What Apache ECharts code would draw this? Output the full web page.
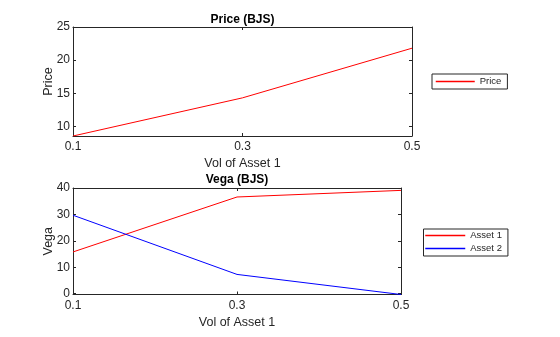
<!DOCTYPE html>
<html>
<head>
<meta charset="utf-8">
<script src="https://cdn.jsdelivr.net/npm/echarts@6/dist/echarts.min.js"></script>
<style>
  html, body { margin: 0; padding: 0; background: #fff; }
  #chart { width: 560px; height: 337px; }
</style>
</head>
<body>
<div id="chart"></div>
<script>
// Volatility of asset 1 (x values shared by both panels)
const vol = [0.1, 0.3, 0.5];
// Option price under BJS
const price = [8.54, 14.3, 21.8];
// Vega of each asset under BJS
const vegaAsset1 = [15.8, 36.6, 39.1];
const vegaAsset2 = [29.7, 7.3, -0.3];
// Tick positions
const volTicks = [0.1, 0.3, 0.5];
const priceTicks = [10, 15, 20, 25];
const vegaTicks = [0, 10, 20, 30, 40];

const INK = '#262626';
const FONT = 'Liberation Sans, Arial, Helvetica, sans-serif';
const RED = '#ff0000';
const BLUE = '#0000ff';

function xAxisFor(gridIndex, position, opts) {
  const labelled = position === 'bottom';
  return Object.assign({
    type: 'value', gridIndex, position,
    min: vol[0], max: vol[vol.length - 1],
    axisLine: { show: true, onZero: false, lineStyle: { color: INK, width: 1 } },
    axisTick: { show: true, inside: true, length: 3, customValues: volTicks, lineStyle: { color: INK } },
    axisLabel: { show: labelled, customValues: volTicks, margin: 5, color: INK, fontSize: 12, fontFamily: FONT,
                 formatter: v => Number(v).toFixed(1) },
    splitLine: { show: false }
  }, opts);
}

function yAxisFor(gridIndex, position, min, max, ticks, opts) {
  const labelled = position === 'left';
  return Object.assign({
    type: 'value', gridIndex, position, min, max,
    axisLine: { show: true, onZero: false, lineStyle: { color: INK, width: 1 } },
    axisTick: { show: true, inside: true, length: 3, customValues: ticks, lineStyle: { color: INK } },
    axisLabel: { show: labelled, customValues: ticks, margin: 3, color: INK, fontSize: 12, fontFamily: FONT },
    splitLine: { show: false }
  }, opts);
}

const nameStyle = { color: INK, fontSize: 12.5, fontFamily: FONT };
const titleStyle = { color: '#000', fontSize: 12, fontWeight: 'bold', fontFamily: FONT };

const pts = ys => vol.map((v, i) => [v, ys[i]]);

// Legend entries: a plain stroke in the series colour, no marker
const legendEntry = (name, colour) => ({
  name,
  itemStyle: { color: colour, opacity: 0 },
  lineStyle: { color: colour, width: 1.5, opacity: 1 }
});

const legendBase = {
  orient: 'vertical', itemWidth: 39, itemHeight: 11, itemGap: 2,
  borderColor: INK, borderWidth: 1, backgroundColor: '#fff',
  textStyle: { color: INK, fontSize: 9.5, fontFamily: FONT, lineHeight: 11 }
};

function lineSeries(name, axisIndex, values, colour) {
  return {
    name, type: 'line', xAxisIndex: axisIndex, yAxisIndex: axisIndex, data: pts(values),
    symbol: 'none', color: colour,
    itemStyle: { color: colour },
    lineStyle: { color: colour, width: 1 }
  };
}

const chart = echarts.init(document.getElementById('chart'), null, { renderer: 'canvas' });
chart.setOption({
  animation: false,
  backgroundColor: '#fff',
  grid: [
    { left: 73, top: 27, width: 339, height: 109 },
    { left: 73, top: 188, width: 328, height: 106.5 }
  ],
  xAxis: [
    xAxisFor(0, 'bottom', { name: 'Vol of Asset 1', nameLocation: 'middle', nameGap: 21, nameTextStyle: nameStyle }),
    xAxisFor(0, 'top', { name: 'Price (BJS)', nameLocation: 'middle', nameGap: 1, nameTextStyle: titleStyle }),
    xAxisFor(1, 'bottom', { name: 'Vol of Asset 1', nameLocation: 'middle', nameGap: 21.5, nameTextStyle: nameStyle }),
    xAxisFor(1, 'top', { name: 'Vega (BJS)', nameLocation: 'middle', nameGap: 2, nameTextStyle: titleStyle })
  ],
  yAxis: [
    yAxisFor(0, 'left', Math.min(...price), 25, priceTicks,
      { name: 'Price', nameLocation: 'middle', nameGap: 18, nameMoveOverlap: false, nameTextStyle: nameStyle }),
    yAxisFor(0, 'right', Math.min(...price), 25, priceTicks),
    yAxisFor(1, 'left', Math.min(...vegaAsset2), 40, vegaTicks,
      { name: 'Vega', nameLocation: 'middle', nameGap: 18, nameMoveOverlap: false, nameTextStyle: nameStyle }),
    yAxisFor(1, 'right', Math.min(...vegaAsset2), 40, vegaTicks)
  ],
  legend: [
    Object.assign({}, legendBase, {
      data: [legendEntry('Price', RED)], left: 432, top: 74, padding: [2, 6, 2, 3]
    }),
    Object.assign({}, legendBase, {
      data: [legendEntry('Asset 1', RED), legendEntry('Asset 2', BLUE)],
      left: 423.5, top: 229, itemWidth: 40, padding: [1, 6, 2, 1]
    })
  ],
  series: [
    lineSeries('Price', 0, price, RED),
    lineSeries('Asset 1', 2, vegaAsset1, RED),
    lineSeries('Asset 2', 2, vegaAsset2, BLUE)
  ]
});
</script>
</body>
</html>
